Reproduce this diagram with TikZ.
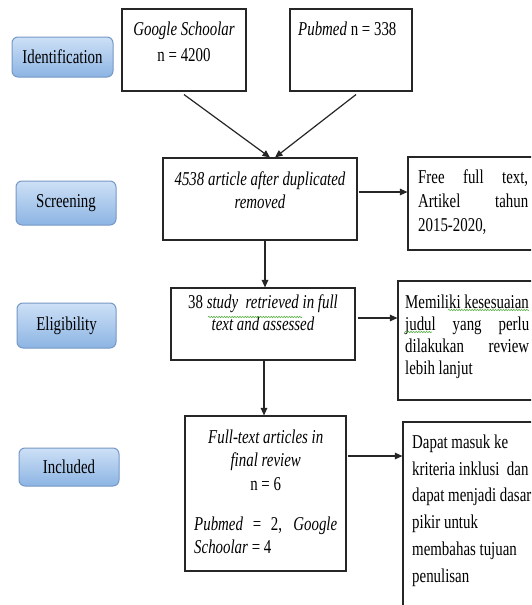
\documentclass[tikz,border=0pt]{standalone}
\usepackage{fontspec}
\setmainfont{Liberation Serif}[FakeStretch=0.76]
\usetikzlibrary{arrows.meta,decorations.pathmorphing}
\definecolor{phasetop}{RGB}{205,224,246}
\definecolor{phasebot}{RGB}{140,180,227}
\definecolor{phaseedge}{RGB}{118,152,198}
\definecolor{wavegreen}{RGB}{90,175,70}
\newcommand\fsz[1]{\fontsize{19.6}{#1}\selectfont}
\newcommand\st{\rule{0pt}{16pt}}
\tikzset{
  phase/.style={draw=phaseedge, line width=1pt, rounded corners=6pt,
    top color=phasetop, bottom color=phasebot, font=\fsz{23}, inner sep=0},
  flowbox/.style={draw=black!85, line width=1.1pt, fill=white, inner sep=0},
  txt/.style={inner sep=0},
  conn/.style={draw=black!85, line width=1.2pt, -{Triangle[length=7.5pt,width=6.5pt]}},
  wavy/.style={draw=wavegreen, line width=0.6pt, decorate,
    decoration={snake, amplitude=0.7pt, segment length=2.6pt}}
}
\begin{document}
\begin{tikzpicture}[x=1pt,y=-1pt]
\useasboundingbox (0,0) rectangle (531,605);
\clip (0,0) rectangle (531,605);
\fill[white] (0,0) rectangle (531,605);

% phase labels
\node[phase, minimum width=101pt, minimum height=40pt] (idf) at (62.5,57) {Identification};
\node[phase, minimum width=100pt, minimum height=44pt] (scr) at (66,203) {Screening};
\node[phase, minimum width=99pt, minimum height=45pt] (elig) at (66.5,325.5) {Eligibility};
\node[phase, minimum width=100pt, minimum height=38pt] (incl) at (69,467) {Included};

% flow boxes
\node[flowbox, minimum width=124pt, minimum height=82pt] (gs) at (184,50) {};
\node[flowbox, minimum width=122pt, minimum height=82pt] (pm) at (351,50) {};
\node[flowbox, minimum width=194pt, minimum height=82pt] (b4538) at (260,199) {};
\node[flowbox, minimum width=152pt, minimum height=93pt] (free) at (484,203.5) {};
\node[flowbox, minimum width=184pt, minimum height=72pt] (b38) at (263,324) {};
\node[flowbox, minimum width=162pt, minimum height=119pt] (mem) at (479,340.5) {};
\node[flowbox, minimum width=161pt, minimum height=155pt] (ft) at (265.5,493.5) {};
\node[flowbox, minimum width=157pt, minimum height=218pt] (dapat) at (481.5,531) {};

% texts
\node[txt, anchor=north, align=center, font=\fsz{26}] (gst) at (184,19)
  {\st\textit{Google Schoolar}\\n = 4200};
\node[txt, anchor=north west, font=\fsz{23}] (pmt) at (298,19)
  {\st\textit{Pubmed} n = 338};
\node[txt, anchor=north, align=center, font=\fsz{23}] (t4538) at (260,169)
  {\st\textit{4538 article after duplicated}\\\textit{removed}};
\node[txt, anchor=north west, align=left, font=\fsz{24}] (tfree) at (418,167)
  {\st\makebox[110pt][s]{Free full text,}\\\makebox[110pt][s]{Artikel tahun}\\2015-2020,};
\node[txt, anchor=north, align=center, font=\fsz{22}] (t38) at (263,292)
  {\st 38 \textit{study\ \ retrieved in full}\\\textit{text and assessed}};
\node[txt, anchor=north west, align=left, font=\fsz{22}] (tmem) at (405,292)
  {\st Memiliki kesesuaian\\\makebox[124pt][s]{judul yang perlu}\\\makebox[124pt][s]{dilakukan review}\\lebih lanjut};
\node[txt, anchor=north west, align=left, font=\fsz{23.5}] (tft) at (194,427)
  {\st\makebox[143pt][c]{\textit{Full-text articles in}}\\\makebox[143pt][c]{\textit{final review}}\\\makebox[143pt][c]{n = 6}\\[16.5pt]\makebox[143pt][s]{\textit{Pubmed} = 2, \textit{Google}}\\\textit{Schoolar} = 4};
\node[txt, anchor=north west, align=left, font=\fsz{26.8}] (tdapat) at (412,432)
  {\st Dapat masuk ke\\kriteria inklusi\ \ dan\\dapat menjadi dasar\\pikir untuk\\membahas tujuan\\penulisan};

% spell-check waves
\draw[wavy] (208,317) -- (302,317);
\draw[wavy] (448,310) -- (529,310);
\draw[wavy] (405,332) -- (432,332);

% connectors
\draw[conn] ([yshift=-3pt]gs.south) -- ([xshift=10pt]b4538.north);
\draw[conn] ([xshift=5pt,yshift=-3pt]pm.south) -- ([xshift=15pt]b4538.north);
\draw[conn] ([xshift=1pt,yshift=7pt]b4538.east) -- ([yshift=7pt]b4538.east -| free.west);
\draw[conn] ([xshift=5pt]b4538.south) -- ([xshift=5pt]b4538.south |- b38.north);
\draw[conn] ([xshift=2pt,yshift=6pt]b38.east) -- ([yshift=6pt]b38.east -| mem.west);
\draw[conn] ([xshift=1pt]b38.south) -- ([xshift=1pt]b38.south |- ft.north);
\draw[conn] ([xshift=1pt,yshift=37.5pt]ft.east) -- ([yshift=37.5pt]ft.east -| dapat.west);
\end{tikzpicture}
\end{document}
